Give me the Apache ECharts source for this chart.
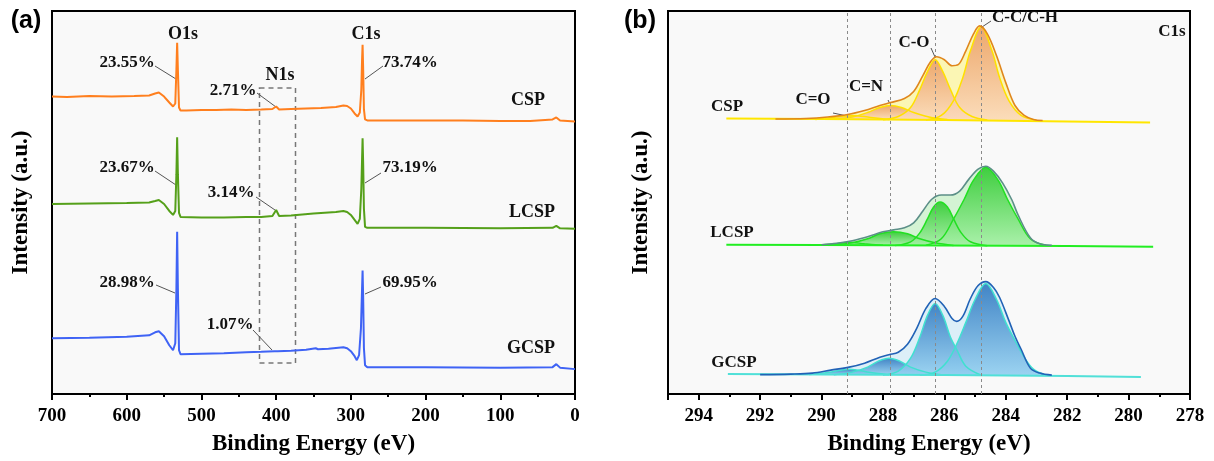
<!DOCTYPE html>
<html>
<head>
<meta charset="utf-8">
<script src="https://cdn.jsdelivr.net/npm/echarts@6/dist/echarts.min.js"></script>
<style>
html,body{margin:0;padding:0;background:#fff;}
#chart{width:1214px;height:461px;}
</style>
</head>
<body>
<div id="chart"></div>
<script>
// ---------- Panel (a): XPS survey spectra [binding energy (eV), intensity (a.u.)] ----------
const surveyTicks = [700, 600, 500, 400, 300, 200, 100, 0];
const surveyCSP = [[700,299],[680,298.5],[650,299.5],[620,299],[590,299.5],[570,300],[562,302],[557,303],[550,299],[543,293],[538,289],[535,292],[533.5,326],[532.5,353],[531.5,326],[530,288],[528,285],[520,285],[500,285.5],[480,285.5],[460,286],[440,285.5],[420,286],[405,286.5],[400,289],[396,286],[380,286.5],[360,287],[340,287.5],[320,288.5],[310,290],[305,289.5],[300,287],[295,282],[291,279],[288,283],[286,306],[285,336],[284.3,351],[283.5,326],[282.5,286],[281,276],[278,275],[250,275],[200,275],[150,275],[100,274.5],[60,274.5],[30,276],[25,278],[20,275],[10,274.5],[0,274]];
const surveyLCSP = [[700,191],[650,191.5],[600,192],[570,192.5],[562,194],[557,195],[550,191],[543,184],[538,180],[535,184],[533.5,221],[532.5,258],[531.5,221],[530,182],[528,178],[500,177.5],[470,177.5],[440,178],[420,178],[405,179],[400,185],[396,179],[380,179.5],[350,181.5],[320,183],[310,184],[305,183],[300,180],[295,175],[291,171],[288,176],[286,206],[285,236],[284.3,257],[283.5,231],[282.5,186],[281,168],[278,167],[200,167],[100,166.5],[30,167],[25,169],[20,166.5],[0,166]];
const surveyGCSP = [[700,56],[650,56.5],[600,57.5],[570,59],[562,62],[557,63],[550,58],[543,49],[538,44],[535,51],[533.5,106],[532.5,163],[531.5,106],[530,44],[528,40],[500,40.5],[470,41],[440,42],[420,42.5],[402,43],[400,44],[398,43],[380,43.5],[360,44.5],[347,46],[344,45],[330,45.5],[310,47],[305,46],[300,43],[295,38],[292,34],[289,39],[286.5,66],[285,106],[284.3,124],[283.5,96],[282.5,46],[281,29],[278,27],[200,27],[100,26.5],[30,27],[25,30],[20,26.5],[0,25]];

// ---------- Panel (b): C1s high-resolution spectra ----------
const c1sTicks = [294, 292, 290, 288, 286, 284, 282, 280, 278];
const peakPositions = [289.15, 287.75, 286.3, 284.8];
// CSP
const cspBaseline = [[293.1,277],[290,276.5],[286,275.5],[282,274],[279.3,273]];
const cspEnvelope = [[291.5,276.5],[290.5,277],[289.8,278.5],[289.15,281],[288.6,285],[288.1,290],[287.75,293],[287.3,297],[287.0,304],[286.7,320],[286.45,334],[286.25,339],[286.0,336],[285.75,330],[285.55,331],[285.3,345],[285.05,362],[284.85,370],[284.6,362],[284.3,340],[284.0,313],[283.7,290],[283.4,280],[283.1,276],[282.8,275]];
const cspCdO = [[290.2,276],[289.6,278],[289.0,280],[288.4,278],[287.8,276]];
const cspCdN = [[289.6,276.3],[289.0,278.5],[288.5,283],[288.1,288],[287.75,290],[287.4,288],[287.0,283],[286.5,278.5],[285.9,276]];
const cspCO = [[288.0,275.8],[287.5,279],[287.1,288],[286.8,306],[286.55,324],[286.3,336],[286.05,324],[285.8,306],[285.5,288],[285.1,279],[284.6,275.5]];
const cspCC = [[286.6,275.5],[286.1,280],[285.7,295],[285.4,318],[285.15,345],[284.8,369],[284.45,345],[284.2,318],[283.9,295],[283.5,280],[283.0,275.3]];
// LCSP
const lcspBaseline = [[293.1,150],[290,149.7],[286,149.3],[282,148.7],[279.2,148]];
const lcspEnvelope = [[290.0,150],[289.5,151.5],[289.0,154],[288.5,158],[288.0,163],[287.65,165],[287.3,167],[287.0,172],[286.7,184],[286.4,196],[286.1,200],[285.8,200],[285.5,204],[285.2,216],[284.9,226],[284.65,229],[284.4,224],[284.1,212],[283.8,195],[283.6,180],[283.2,157],[282.9,151],[282.5,149.5]];
const lcspCdO = [[290.2,149.5],[289.6,151],[289.1,152.5],[288.6,151],[288.0,149.5]];
const lcspCdN = [[289.6,149.5],[289.0,152],[288.5,156],[288.1,161],[287.65,163],[287.2,161],[286.8,156],[286.3,152],[285.7,149.3]];
const lcspCO = [[287.6,149.3],[287.1,153],[286.8,162],[286.55,176],[286.35,188],[286.14,193],[285.9,188],[285.7,176],[285.45,162],[285.15,153],[284.6,149]];
const lcspCC = [[286.6,149.5],[286.1,156],[285.7,176],[285.35,196],[285.05,215],[284.65,228],[284.25,215],[283.95,196],[283.6,176],[283.2,156],[282.7,149.5]];
// GCSP
const gcspBaseline = [[293.05,20],[290,19.5],[286,19],[282,18],[279.6,17]];
const gcspEnvelope = [[292.0,19.5],[291.0,20],[290.3,21],[289.7,24],[289.1,27],[288.6,31],[288.1,37],[287.8,39.5],[287.5,42],[287.2,50],[286.9,66],[286.6,86],[286.3,96],[286.0,88],[285.75,76],[285.6,73],[285.4,78],[285.15,96],[284.9,109],[284.65,113],[284.4,107],[284.2,97],[283.9,74],[283.7,58],[283.5,45],[283.2,26],[282.9,21],[282.5,19]];
const gcspCdO = [[290.4,19.5],[289.8,21.5],[289.1,25],[288.4,21.5],[287.8,19.3]];
const gcspCdN = [[289.6,19.3],[289.0,22],[288.5,27],[288.15,33],[287.8,36],[287.45,33],[287.1,27],[286.6,22],[286.0,19]];
const gcspCO = [[288.0,19],[287.5,23],[287.1,36],[286.8,57],[286.55,79],[286.3,91],[286.05,79],[285.8,57],[285.6,45],[285.3,28],[284.8,19]];
const gcspCC = [[286.8,19],[286.3,22],[285.9,33],[285.6,50],[285.3,72],[285.0,95],[284.65,111],[284.3,95],[284.0,72],[283.7,54],[283.4,37],[283.1,25],[282.7,19]];

// ---------- chart ----------
const chart = echarts.init(document.getElementById('chart'), null, {renderer: 'canvas'});
const SERIF = '"Liberation Serif", "Times New Roman", serif';
const SANS = '"Liberation Sans", Arial, sans-serif';
const grad = (top, bottom) => new echarts.graphic.LinearGradient(0, 0, 0, 1, [{offset: 0, color: top}, {offset: 1, color: bottom}]);

function surveySeries(data, color) {
  return {type: 'line', xAxisIndex: 0, yAxisIndex: 0, data, symbol: 'none', smooth: false,
          lineStyle: {color, width: 2}, z: 3, silent: true};
}
function envFill(data, origin, fill) {
  return {type: 'line', xAxisIndex: 1, yAxisIndex: 1, data, symbol: 'none', smooth: 0.35,
          lineStyle: {width: 0}, areaStyle: {origin, color: fill, opacity: 1}, z: 2, silent: true};
}
function envLine(data, color) {
  return {type: 'line', xAxisIndex: 1, yAxisIndex: 1, data, symbol: 'none', smooth: 0.35,
          lineStyle: {color, width: 1.6}, z: 6, silent: true};
}
function comp(data, origin, top, bottom, edge) {
  return {type: 'line', xAxisIndex: 1, yAxisIndex: 1, data, symbol: 'none', smooth: 0.35,
          lineStyle: {color: edge, width: 1.5}, areaStyle: {origin, color: grad(top, bottom), opacity: 0.88}, z: 3, silent: true};
}
function base(data, color, extra) {
  return Object.assign({type: 'line', xAxisIndex: 1, yAxisIndex: 1, data, symbol: 'none', smooth: false,
          lineStyle: {color, width: 2}, z: 4, silent: true}, extra || {});
}

const tickLabel = {color: '#000', fontFamily: SERIF, fontWeight: 'bold', fontSize: 19, margin: 13};
const axisName = {color: '#000', fontFamily: SERIF, fontWeight: 'bold', fontSize: 23};

function xAxisCfg(grid, min, max, interval, name, fmt) {
  return {type: 'value', gridIndex: grid, min, max, interval, inverse: true,
    name, nameLocation: 'middle', nameGap: 39, nameTextStyle: axisName,
    axisLine: {show: true, onZero: false, lineStyle: {color: '#000', width: 2}},
    axisTick: {show: true, inside: false, length: 6, lineStyle: {color: '#000', width: 2}},
    minorTick: {show: true, splitNumber: 2, length: 3, lineStyle: {color: '#000', width: 2}},
    axisLabel: Object.assign({}, tickLabel, {formatter: fmt}),
    splitLine: {show: false}};
}
function yAxisCfg(grid, gap) {
  return {type: 'value', gridIndex: grid, min: 0, max: 385,
    name: 'Intensity (a.u.)', nameLocation: 'middle', nameGap: gap, nameRotate: 90, nameTextStyle: axisName,
    axisLine: {show: false}, axisTick: {show: false}, axisLabel: {show: false}, splitLine: {show: false}};
}

const labelStyle = (text, x, y, size) => ({type: 'text', x, y, silent: true,
  style: {text, fill: '#111', font: 'bold ' + (size || 17) + 'px ' + SERIF, textAlign: 'center', textVerticalAlign: 'middle'}});
const leader = (x1, y1, x2, y2) => ({type: 'line', silent: true, shape: {x1, y1, x2, y2}, style: {stroke: '#555', lineWidth: 1}});

const option = {
  animation: false,
  backgroundColor: '#fff',
  grid: [
    {left: 52, top: 11, width: 523, height: 385, show: true, backgroundColor: '#f9f9f9', borderColor: '#000', borderWidth: 2},
    {left: 668, top: 11, width: 522, height: 385, show: true, backgroundColor: '#f9f9f9', borderColor: '#000', borderWidth: 2}
  ],
  xAxis: [
    xAxisCfg(0, 0, 700, 100, 'Binding Energy (eV)', v => surveyTicks.includes(v) ? String(v) : ''),
    xAxisCfg(1, 278, 295, 2, 'Binding Energy (eV)', v => c1sTicks.includes(v) ? String(v) : '')
  ],
  yAxis: [yAxisCfg(0, 19), yAxisCfg(1, 15)],
  series: [
    surveySeries(surveyCSP, '#ff7f1e'),
    surveySeries(surveyLCSP, '#55a01a'),
    surveySeries(surveyGCSP, '#3f63f5'),
    // CSP
    envFill(cspEnvelope, 275.5, '#fbf6b4'),
    comp(cspCdO, 276, '#eb9d62', '#fbd9bb', '#ffe000'),
    comp(cspCdN, 276, '#eb9d62', '#fbd9bb', '#ffe000'),
    comp(cspCO, 275.5, '#eb9d62', '#fbd9bb', '#ffe000'),
    comp(cspCC, 275, '#eb9d62', '#fbd9bb', '#ffe000'),
    base(cspBaseline, '#ffe600', {
      markLine: {silent: true, symbol: 'none', label: {show: false},
        lineStyle: {color: '#8a8a8a', type: [3, 3], width: 1},
        data: peakPositions.map(v => ({xAxis: v}))}
    }),
    envLine(cspEnvelope, '#e0861c'),
    // LCSP
    envFill(lcspEnvelope, 149, '#d4f3d4'),
    comp(lcspCdO, 149.5, '#2bc92b', '#a4f0a4', '#22e022'),
    comp(lcspCdN, 149.5, '#2bc92b', '#a4f0a4', '#22e022'),
    comp(lcspCO, 149, '#2bc92b', '#a4f0a4', '#22e022'),
    comp(lcspCC, 149, '#2bc92b', '#a4f0a4', '#22e022'),
    base(lcspBaseline, '#22ee22'),
    envLine(lcspEnvelope, '#5c8f88'),
    // GCSP
    envFill(gcspEnvelope, 19, '#dceff8'),
    comp(gcspCdO, 19.3, '#2c76bf', '#92cff0', '#40e0d0'),
    comp(gcspCdN, 19.3, '#2c76bf', '#92cff0', '#40e0d0'),
    comp(gcspCO, 19, '#2c76bf', '#92cff0', '#40e0d0'),
    comp(gcspCC, 19, '#2c76bf', '#92cff0', '#40e0d0'),
    base(gcspBaseline, '#50e0d8'),
    envLine(gcspEnvelope, '#2162b6')
  ],
  graphic: [
    {type: 'text', x: 26, y: 21, silent: true, style: {text: '(a)', fill: '#000', font: 'bold 25px ' + SANS, textAlign: 'center', textVerticalAlign: 'middle'}},
    {type: 'text', x: 640, y: 21, silent: true, style: {text: '(b)', fill: '#000', font: 'bold 25px ' + SANS, textAlign: 'center', textVerticalAlign: 'middle'}},
    // panel a
    {type: 'rect', silent: true, shape: {x: 259.5, y: 88, width: 36, height: 275}, style: {fill: 'none', stroke: '#777', lineWidth: 1.5, lineDash: [5, 4]}},
    labelStyle('O1s', 183, 34, 18), labelStyle('C1s', 366, 34, 18), labelStyle('N1s', 280, 75, 18),
    labelStyle('23.55%', 127, 63), labelStyle('73.74%', 410, 63), labelStyle('2.71%', 233, 91),
    labelStyle('23.67%', 127, 168), labelStyle('73.19%', 410, 168), labelStyle('3.14%', 231, 193),
    labelStyle('28.98%', 127, 283), labelStyle('69.95%', 410, 283), labelStyle('1.07%', 230, 325),
    labelStyle('CSP', 528, 100, 18), labelStyle('LCSP', 532, 212, 18), labelStyle('GCSP', 531, 348, 18),
    leader(155, 66, 176, 79), leader(383, 66, 365, 79), leader(257, 93, 276, 107),
    leader(155, 171, 176, 185), leader(381, 173, 365, 183), leader(256, 197, 275, 210),
    leader(156, 285, 175, 293), leader(381, 287, 365, 294), leader(253, 330, 272, 350),
    // panel b
    labelStyle('C=O', 813, 100), labelStyle('C=N', 866, 87), labelStyle('C-O', 914, 43), labelStyle('C-C/C-H', 1025, 18),
    labelStyle('C1s', 1172, 32), labelStyle('CSP', 727, 107), labelStyle('LCSP', 732, 233), labelStyle('GCSP', 734, 363),
    leader(833, 113, 847, 116), leader(888, 100, 890, 104), leader(931, 48, 935, 57), leader(991, 21, 982, 27)
  ]
};
chart.setOption(option);
</script>
</body>
</html>
